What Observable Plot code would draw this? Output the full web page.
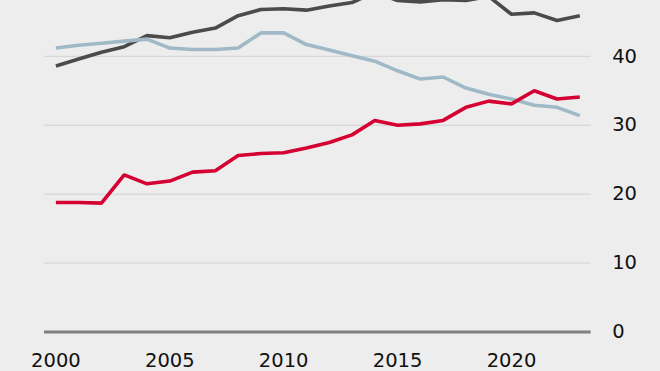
<!DOCTYPE html>
<html>
<head>
<meta charset="utf-8">
<script src="https://cdn.jsdelivr.net/npm/d3@7"></script>
<script src="https://cdn.jsdelivr.net/npm/@observablehq/plot@0.6"></script>
<style>
  html, body { margin: 0; padding: 0; background: #ededed; }
  #chart svg { display: block; }
</style>
</head>
<body>
<div id="chart"></div>
<script>
const years = [2000,2001,2002,2003,2004,2005,2006,2007,2008,2009,2010,2011,2012,2013,2014,2015,2016,2017,2018,2019,2020,2021,2022,2023];
const darkSeries = [38.6,39.6,40.6,41.4,43.0,42.7,43.5,44.1,45.9,46.8,46.9,46.7,47.3,47.8,49.3,48.1,47.9,48.2,48.1,48.7,46.1,46.3,45.2,45.9];
const blueSeries = [41.2,41.6,41.9,42.2,42.5,41.2,41.0,41.0,41.2,43.4,43.4,41.7,40.9,40.1,39.3,37.9,36.7,37.0,35.4,34.5,33.8,32.9,32.6,31.4];
const redSeries  = [18.8,18.8,18.7,22.8,21.5,21.9,23.2,23.4,25.6,25.9,26.0,26.7,27.5,28.6,30.7,30.0,30.2,30.7,32.6,33.5,33.1,35.0,33.8,34.1];
const xTicks = [2000,2005,2010,2015,2020];
const yTicks = [0,10,20,30,40];
const gridTicks = [10,20,30,40];

const seriesDefs = [
  {name: "dark", values: darkSeries, color: "#4b4b4b"},
  {name: "blue", values: blueSeries, color: "#a0b9c7"},
  {name: "red", values: redSeries, color: "#d50032"}
];
const rows = seriesDefs.flatMap(s => years.map((y, i) => ({series: s.name, year: y, value: s.values[i]})));

const plot = Plot.plot({
  width: 660,
  height: 371,
  marginTop: 0,
  marginBottom: 39.5,
  marginLeft: 44,
  marginRight: 69.3,
  style: {background: "#ededed", fontFamily: "DejaVu Sans", fontSize: "19.5px", color: "#111"},
  x: {domain: [1999.5, 2023.5], label: null},
  y: {domain: [0, 48.1], label: null},
  color: {domain: seriesDefs.map(d => d.name), range: seriesDefs.map(d => d.color)},
  marks: [
    Plot.ruleY(gridTicks, {stroke: "#d2d2d2", strokeWidth: 1}),
    Plot.axisX(xTicks, {tickSize: 0, tickPadding: 21, tickFormat: d => String(d), fill: "#111", fontSize: 19.5, label: null}),
    Plot.axisY(yTicks, {anchor: "right", tickSize: 0, tickPadding: 21, textAnchor: "start", fill: "#111", fontSize: 19.5, label: null}),
    Plot.line(rows, {x: "year", y: "value", z: "series", stroke: "series", strokeWidth: 3.6, strokeLinejoin: "miter", strokeLinecap: "butt"}),
    Plot.ruleY([0], {stroke: "#808080", strokeWidth: 3})
  ]
});
document.getElementById("chart").appendChild(plot);
</script>
</body>
</html>
